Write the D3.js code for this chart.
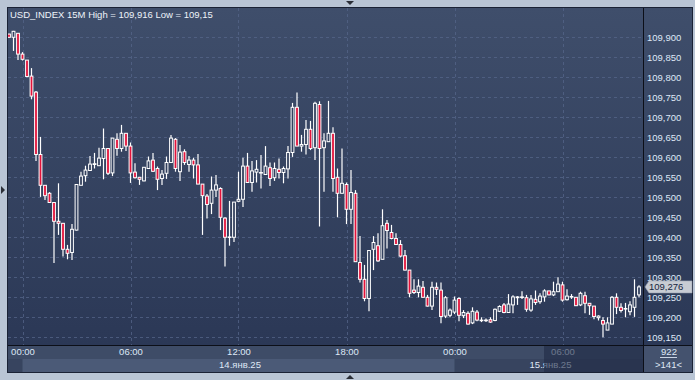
<!DOCTYPE html>
<html>
<head>
<meta charset="utf-8">
<script src="https://cdn.jsdelivr.net/npm/d3@7"></script>
<style>
  html, body { margin: 0; padding: 0; background: #b9c5d5; }
  svg { display: block; font-family: "Liberation Sans", Arial, sans-serif; }
</style>
</head>
<body>
<script>
const W = 695, H = 380;
const chart = { left: 8, right: 643, top: 8, bottom: 345 };

const title = "USD_INDEX 15M High = 109,916 Low = 109,15";

// 15M candles, 13.01 23:15 .. 15.01 10:15
const opens = [109.908,109.900,109.910,109.858,109.843,109.803,109.763,109.607,109.530,109.510,
  109.487,109.440,109.435,109.370,109.362,109.418,109.530,109.554,109.567,109.582,
  109.579,109.597,109.622,109.561,109.645,109.622,109.660,109.628,109.563,109.550,
  109.541,109.572,109.593,109.572,109.547,109.560,109.587,109.645,109.564,109.614,
  109.582,109.593,109.581,109.533,109.503,109.485,109.518,109.522,109.448,109.400,
  109.400,109.490,109.495,109.578,109.537,109.563,109.561,109.557,109.574,109.549,
  109.570,109.562,109.571,109.612,109.725,109.628,109.632,109.670,109.624,109.732,
  109.624,109.639,109.660,109.550,109.510,109.532,109.470,109.510,109.337,109.295,
  109.247,109.370,109.379,109.345,109.435,109.412,109.397,109.382,109.354,109.318,
  109.268,109.262,109.275,109.250,109.228,109.275,109.268,109.203,109.205,109.213,
  109.247,109.204,109.210,109.186,109.213,109.193,109.192,109.194,109.192,109.215,
  109.231,109.212,109.231,109.249,109.250,109.249,109.218,109.245,109.239,109.251,
  109.266,109.256,109.264,109.281,109.244,109.251,109.250,109.231,109.254,109.235,
  109.228,109.199,109.192,109.168,109.183,109.250,109.225,109.221,109.214,109.225,
  109.256];
const highs = [109.909,109.916,109.911,109.863,109.843,109.823,109.766,109.651,109.531,109.513,
  109.488,109.535,109.436,109.381,109.433,109.533,109.564,109.579,109.603,109.611,
  109.624,109.672,109.623,109.648,109.660,109.681,109.660,109.637,109.585,109.551,
  109.576,109.602,109.611,109.577,109.568,109.602,109.656,109.648,109.631,109.620,
  109.603,109.599,109.608,109.533,109.508,109.552,109.556,109.525,109.450,109.491,
  109.488,109.564,109.599,109.611,109.591,109.593,109.606,109.628,109.587,109.587,
  109.597,109.577,109.628,109.736,109.762,109.656,109.693,109.691,109.739,109.740,
  109.660,109.741,109.675,109.572,109.622,109.537,109.568,109.518,109.403,109.331,
  109.367,109.403,109.410,109.470,109.443,109.431,109.410,109.393,109.368,109.318,
  109.295,109.295,109.291,109.256,109.289,109.287,109.287,109.253,109.222,109.252,
  109.250,109.218,109.215,109.225,109.218,109.200,109.197,109.200,109.222,109.230,
  109.236,109.258,109.255,109.253,109.265,109.256,109.256,109.267,109.260,109.270,
  109.266,109.289,109.300,109.289,109.270,109.258,109.251,109.264,109.264,109.235,
  109.228,109.205,109.200,109.200,109.253,109.260,109.235,109.236,109.240,109.295,
  109.280];
const lows = [109.899,109.866,109.843,109.842,109.800,109.745,109.591,109.501,109.493,109.487,
  109.336,109.406,109.352,109.345,109.343,109.417,109.530,109.539,109.567,109.572,
  109.579,109.545,109.556,109.553,109.604,109.614,109.616,109.536,109.547,109.531,
  109.540,109.571,109.563,109.518,109.531,109.546,109.587,109.564,109.541,109.581,
  109.564,109.547,109.533,109.406,109.447,109.458,109.501,109.418,109.327,109.379,
  109.388,109.488,109.476,109.537,109.514,109.537,109.522,109.557,109.528,109.541,
  109.547,109.535,109.547,109.601,109.628,109.614,109.607,109.618,109.593,109.427,
  109.514,109.639,109.514,109.450,109.510,109.433,109.433,109.339,109.287,109.240,
  109.215,109.318,109.339,109.345,109.372,109.395,109.381,109.350,109.317,109.250,
  109.258,109.250,109.250,109.227,109.218,109.256,109.185,109.198,109.200,109.208,
  109.190,109.198,109.182,109.183,109.190,109.188,109.188,109.186,109.190,109.213,
  109.210,109.211,109.210,109.231,109.246,109.214,109.214,109.231,109.234,109.239,
  109.255,109.253,109.264,109.239,109.242,109.246,109.228,109.228,109.210,109.206,
  109.195,109.192,109.150,109.168,109.183,109.208,109.212,109.200,109.205,109.201,
  109.250];
const closes = [109.900,109.915,109.858,109.845,109.802,109.753,109.607,109.530,109.504,109.487,
  109.440,109.435,109.370,109.360,109.420,109.532,109.553,109.568,109.583,109.584,
  109.598,109.622,109.560,109.648,109.622,109.660,109.628,109.561,109.549,109.545,
  109.575,109.591,109.565,109.545,109.558,109.587,109.648,109.572,109.613,109.587,
  109.593,109.581,109.533,109.504,109.482,109.518,109.531,109.450,109.400,109.401,
  109.488,109.495,109.578,109.537,109.566,109.570,109.562,109.578,109.547,109.572,
  109.562,109.572,109.612,109.725,109.628,109.632,109.670,109.622,109.735,109.622,
  109.641,109.660,109.547,109.510,109.535,109.470,109.512,109.339,109.295,109.247,
  109.367,109.387,109.341,109.429,109.417,109.397,109.382,109.353,109.318,109.260,
  109.262,109.278,109.250,109.228,109.275,109.270,109.202,109.249,109.218,109.243,
  109.205,109.212,109.183,109.215,109.193,109.192,109.193,109.188,109.220,109.227,
  109.212,109.233,109.251,109.251,109.251,109.220,109.246,109.237,109.253,109.266,
  109.256,109.264,109.283,109.243,109.253,109.252,109.229,109.260,109.235,109.229,
  109.202,109.203,109.183,109.186,109.250,109.225,109.217,109.222,109.231,109.250,
  109.276];

const priceTicks = [109.15,109.20,109.25,109.30,109.35,109.40,109.45,109.50,
  109.55,109.60,109.65,109.70,109.75,109.80,109.85,109.90];
const timeTickIdx = [3, 27, 51, 75, 99, 123];
const timeTickLabels = ["00:00", "06:00", "12:00", "18:00", "00:00", "06:00"];
const dayIdx = [51, 120];
const dayLabels = ["14.янв.25", "15.янв.25"];
const lastPrice = 109.276;
const barCount = "922";
const visibleCount = ">141<";

const fmtPrice = d => d3.format(".3f")(d).replace(".", ",");

const x = d3.scaleLinear().domain([0, opens.length - 1]).range([9, 639]);
const y = d3.scaleLinear().domain([109.15, 109.90]).range([337.3, 37.3]);

const svg = d3.select("body").append("svg")
  .attr("width", W).attr("height", H);

const defs = svg.append("defs");
const grad = defs.append("linearGradient").attr("id", "bg").attr("x1", 0).attr("y1", 0).attr("x2", 0).attr("y2", 1);
grad.append("stop").attr("offset", "0%").attr("stop-color", "#3f4e6b");
grad.append("stop").attr("offset", "100%").attr("stop-color", "#2b3856");
defs.append("clipPath").attr("id", "clip").append("rect")
  .attr("x", chart.left).attr("y", chart.top)
  .attr("width", chart.right - chart.left).attr("height", chart.bottom - chart.top);

// frame
svg.append("rect").attr("x", 7).attr("y", 7).attr("width", 686).attr("height", 366).attr("fill", "#1a2235");
svg.append("rect").attr("x", chart.left).attr("y", chart.top)
  .attr("width", 692 - chart.left).attr("height", chart.bottom - chart.top).attr("fill", "url(#bg)");

// bottom strip
svg.append("rect").attr("x", chart.left).attr("y", 346).attr("width", chart.right - chart.left).attr("height", 13).attr("fill", "#3e4c67");
svg.append("rect").attr("x", chart.left).attr("y", 359).attr("width", chart.right - chart.left).attr("height", 13).attr("fill", "#37445f");
svg.append("rect").attr("x", x(3)).attr("y", 359).attr("width", x(99) - x(3)).attr("height", 13).attr("fill", "#4b5a77");
svg.append("rect").attr("x", 644).attr("y", 346).attr("width", 48).attr("height", 26).attr("fill", "#44526e");

// grid
const grid = svg.append("g").attr("stroke", "#56658a").attr("stroke-opacity", 0.75)
  .attr("stroke-dasharray", "3,3").attr("stroke-width", 1);
grid.selectAll(".hg").data(priceTicks).join("line")
  .attr("x1", chart.left).attr("x2", chart.right)
  .attr("y1", d => Math.round(y(d)) + 0.5).attr("y2", d => Math.round(y(d)) + 0.5);
grid.selectAll(".vg").data(timeTickIdx).join("line")
  .attr("y1", chart.top).attr("y2", chart.bottom)
  .attr("x1", d => Math.round(x(d)) + 0.5).attr("x2", d => Math.round(x(d)) + 0.5);

// candles
const idx = d3.range(opens.length);
const candles = svg.append("g").attr("clip-path", "url(#clip)");
candles.selectAll(".wick").data(idx).join("line")
  .attr("class", "wick")
  .attr("x1", i => x(i)).attr("x2", i => x(i))
  .attr("y1", i => y(highs[i])).attr("y2", i => y(lows[i]))
  .attr("stroke", "#ffffff").attr("stroke-width", 1.2);
candles.selectAll(".body").data(idx).join("rect")
  .attr("class", "body")
  .attr("x", i => x(i) - 1.4)
  .attr("width", 2.8)
  .attr("y", i => y(Math.max(opens[i], closes[i])))
  .attr("height", i => Math.max(0.6, Math.abs(y(opens[i]) - y(closes[i]))))
  .attr("fill", i => closes[i] < opens[i] ? "#e3123a" : "#33415e")
  .attr("stroke", "#ffffff").attr("stroke-width", 1);

// axes lines
svg.append("line").attr("x1", chart.left).attr("x2", 692).attr("y1", 345.5).attr("y2", 345.5).attr("stroke", "#0c0f18");
svg.append("line").attr("x1", 643.5).attr("x2", 643.5).attr("y1", chart.top).attr("y2", 372).attr("stroke", "#0c0f18");

// y axis
const yAxis = svg.append("g").attr("transform", "translate(643,0)")
  .call(d3.axisRight(y).tickValues(priceTicks).tickSize(0).tickPadding(4).tickFormat(fmtPrice));
yAxis.select(".domain").remove();
yAxis.selectAll("text").attr("fill", "#dfe8f6").attr("font-size", "9.5px")
  .attr("font-family", "Liberation Sans, Arial, sans-serif");

// x axis
const xAxis = svg.append("g").attr("transform", "translate(0,345)")
  .call(d3.axisBottom(x).tickValues(timeTickIdx).tickSize(0).tickPadding(3)
    .tickFormat((d, i) => timeTickLabels[i]));
xAxis.select(".domain").remove();
xAxis.selectAll("text").attr("fill", "#dfe8f6").attr("font-size", "9.5px")
  .attr("font-family", "Liberation Sans, Arial, sans-serif");

svg.selectAll(".day").data(dayIdx).join("text")
  .attr("class", "day")
  .attr("x", d => x(d) + 1.5).attr("y", 368)
  .attr("text-anchor", "middle").attr("fill", "#dfe8f6").attr("font-size", "9.5px")
  .text((d, i) => dayLabels[i]);

// navigator shade
svg.append("rect").attr("x", 544).attr("y", 346).attr("width", 643 - 544).attr("height", 26)
  .attr("fill", "#1f2944").attr("fill-opacity", 0.6);

// counters
svg.append("text").attr("x", 669).attr("y", 355).attr("text-anchor", "middle")
  .attr("fill", "#dfe8f6").attr("font-size", "9.5px").text(barCount);
svg.append("line").attr("x1", 660).attr("x2", 677).attr("y1", 357.5).attr("y2", 357.5).attr("stroke", "#c9d3e3");
svg.append("text").attr("x", 668.5).attr("y", 368).attr("text-anchor", "middle")
  .attr("fill", "#dfe8f6").attr("font-size", "9.5px").text(visibleCount);

// last price tag
const ly = y(lastPrice);
svg.append("path")
  .attr("d", `M645,${ly} L649,${ly - 6} L692,${ly - 6} L692,${ly + 6} L649,${ly + 6} Z`)
  .attr("fill", "#c8ccd3").attr("stroke", "#9aa3b1").attr("stroke-width", 0.6);
svg.append("text").attr("x", 649).attr("y", ly + 3.5)
  .attr("fill", "#16253d").attr("font-size", "9.5px").text(fmtPrice(lastPrice));

// title
svg.append("text").attr("x", 10).attr("y", 18)
  .attr("fill", "#eef3fa").attr("font-size", "9.5px").text(title);

// scroll arrows
const arrow = svg.append("g").attr("fill", "#2b2f38");
arrow.append("path").attr("d", "M346,1 L354,1 L350,5 Z");
arrow.append("path").attr("d", "M1,186 L5,190 L1,194 Z");
arrow.append("path").attr("d", "M346,379 L354,379 L350,375 Z");
</script>
</body>
</html>
